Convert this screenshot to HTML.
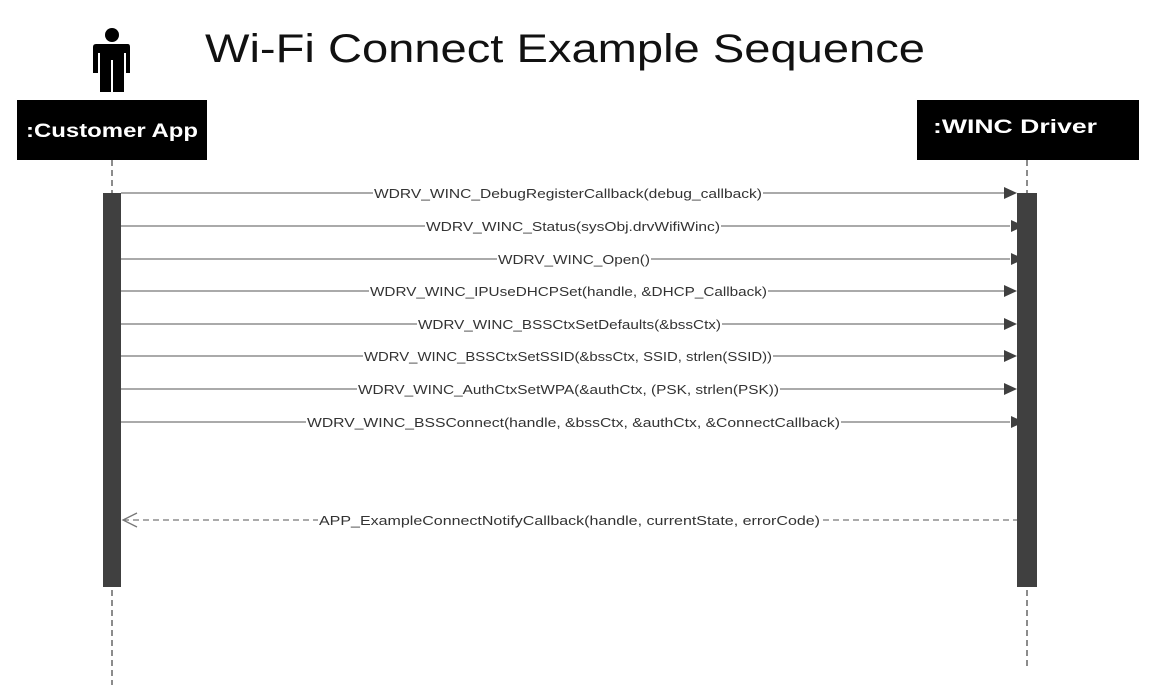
<!DOCTYPE html>
<html><head><meta charset="utf-8"><style>html,body{margin:0;padding:0;background:#fff}svg{display:block}</style></head>
<body>
<svg width="1151" height="685" viewBox="0 0 1151 685" xmlns="http://www.w3.org/2000/svg" font-family="Liberation Sans, sans-serif">
<rect width="1151" height="685" fill="#fff"/>
<!-- title -->
<text x="205" y="62" font-size="40" fill="#111" textLength="720" lengthAdjust="spacingAndGlyphs">Wi-Fi Connect Example Sequence</text>
<!-- actor -->
<circle cx="112" cy="35" r="7" fill="#000"/>
<path d="M96 44 H128 Q130 44 130 47 V73 H126 V53 H124 V92 H113 V60 H111 V92 H100 V53 H98 V73 H93 V47 Q93 44 96 44 Z" fill="#000"/>
<!-- lifeline boxes -->
<rect x="17" y="100" width="190" height="60" fill="#000"/>
<text x="112" y="137" font-size="19" font-weight="bold" fill="#fff" text-anchor="middle" textLength="172" lengthAdjust="spacingAndGlyphs">:Customer App</text>
<rect x="917" y="100" width="222" height="60" fill="#000"/>
<text x="933" y="133" font-size="19" font-weight="bold" fill="#fff" textLength="164" lengthAdjust="spacingAndGlyphs">:WINC Driver</text>
<!-- lifelines -->
<line x1="112" y1="160" x2="112" y2="685" stroke="#666" stroke-width="1.5" stroke-dasharray="6,4"/>
<line x1="1027" y1="160" x2="1027" y2="670" stroke="#666" stroke-width="1.5" stroke-dasharray="6,4"/>
<!-- activation bars -->
<rect x="103" y="193" width="18" height="394" fill="#404040"/>
<rect x="1017" y="193" width="20" height="394" fill="#404040"/>
<g stroke="#777" stroke-width="1.3">
<line x1="121" y1="193" x2="1005" y2="193"/>
<line x1="121" y1="226" x2="1010" y2="226"/>
<line x1="121" y1="259" x2="1010" y2="259"/>
<line x1="121" y1="291" x2="1010" y2="291"/>
<line x1="121" y1="324" x2="1010" y2="324"/>
<line x1="121" y1="356" x2="1010" y2="356"/>
<line x1="121" y1="389" x2="1010" y2="389"/>
<line x1="121" y1="422" x2="1010" y2="422"/>
<line x1="123" y1="520" x2="1017" y2="520" stroke-dasharray="6,4"/>
<polyline points="137,513 123,520 137,527" fill="none"/>
</g>
<g fill="#404040">
<polygon points="1004,187 1017,193 1004,199"/>
<polygon points="1011,220 1024,226 1011,232"/>
<polygon points="1011,253 1024,259 1011,265"/>
<polygon points="1004,285 1017,291 1004,297"/>
<polygon points="1004,318 1017,324 1004,330"/>
<polygon points="1004,350 1017,356 1004,362"/>
<polygon points="1004,383 1017,389 1004,395"/>
<polygon points="1011,416 1024,422 1011,428"/>
</g>
<g font-size="13" fill="#333" lengthAdjust="spacingAndGlyphs">
<rect x="373" y="185" width="390" height="16" fill="#fff"/>
<text x="374" y="198" textLength="388" lengthAdjust="spacingAndGlyphs">WDRV_WINC_DebugRegisterCallback(debug_callback)</text>
<rect x="425" y="218" width="296" height="16" fill="#fff"/>
<text x="426" y="231" textLength="294" lengthAdjust="spacingAndGlyphs">WDRV_WINC_Status(sysObj.drvWifiWinc)</text>
<rect x="497" y="251" width="154" height="16" fill="#fff"/>
<text x="498" y="264" textLength="152" lengthAdjust="spacingAndGlyphs">WDRV_WINC_Open()</text>
<rect x="369" y="283" width="399" height="16" fill="#fff"/>
<text x="370" y="296" textLength="397" lengthAdjust="spacingAndGlyphs">WDRV_WINC_IPUseDHCPSet(handle, &amp;DHCP_Callback)</text>
<rect x="417" y="316" width="305" height="16" fill="#fff"/>
<text x="418" y="329" textLength="303" lengthAdjust="spacingAndGlyphs">WDRV_WINC_BSSCtxSetDefaults(&amp;bssCtx)</text>
<rect x="363" y="348" width="410" height="16" fill="#fff"/>
<text x="364" y="361" textLength="408" lengthAdjust="spacingAndGlyphs">WDRV_WINC_BSSCtxSetSSID(&amp;bssCtx, SSID, strlen(SSID))</text>
<rect x="357" y="381" width="423" height="16" fill="#fff"/>
<text x="358" y="394" textLength="421" lengthAdjust="spacingAndGlyphs">WDRV_WINC_AuthCtxSetWPA(&amp;authCtx, (PSK, strlen(PSK))</text>
<rect x="306" y="414" width="535" height="16" fill="#fff"/>
<text x="307" y="427" textLength="533" lengthAdjust="spacingAndGlyphs">WDRV_WINC_BSSConnect(handle, &amp;bssCtx, &amp;authCtx, &amp;ConnectCallback)</text>
<rect x="318" y="512" width="503" height="16" fill="#fff"/>
<text x="319" y="525" textLength="501" lengthAdjust="spacingAndGlyphs">APP_ExampleConnectNotifyCallback(handle,  currentState, errorCode)</text>
</g>
</svg>
</body></html>
